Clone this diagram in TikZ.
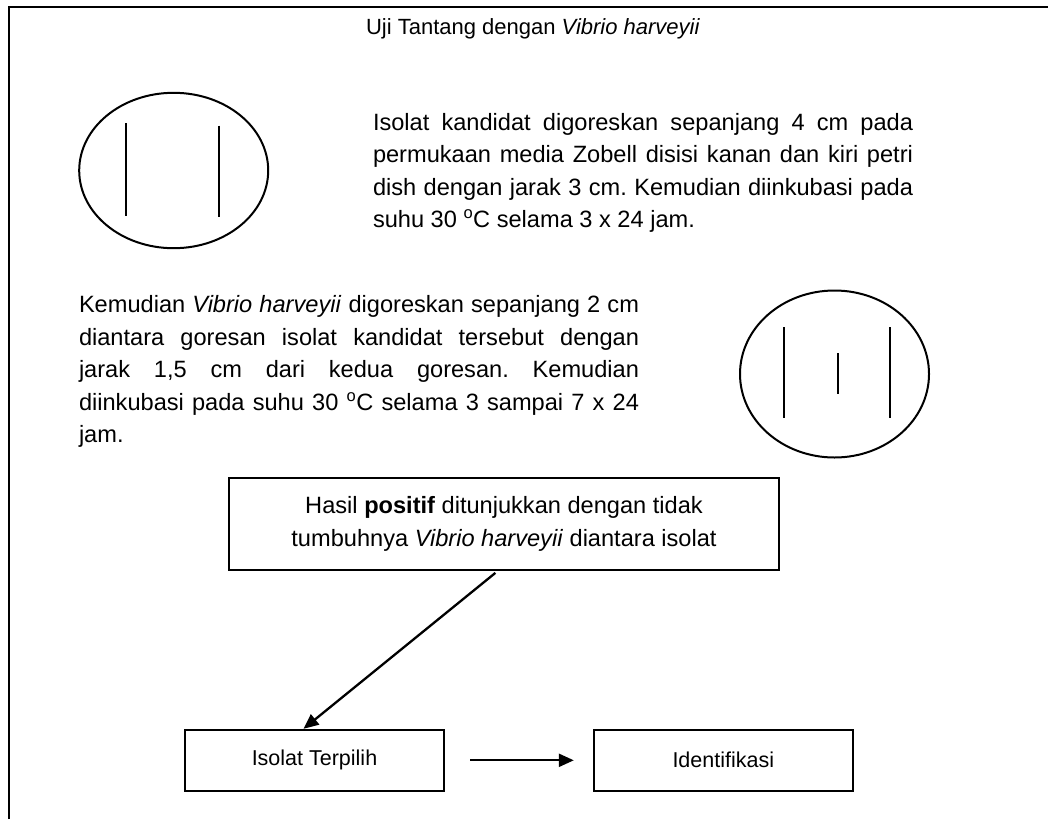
\documentclass[tikz,border=0pt]{standalone}
\usepackage{fontspec}
\setmainfont{Liberation Sans}
\usetikzlibrary{arrows.meta}
\hyphenpenalty=10000
\exhyphenpenalty=10000
\tolerance=10000
\frenchspacing
\begin{document}
\begin{tikzpicture}[x=1pt,y=-1pt,
  line width=2pt,
  para/.style={anchor=north west, inner sep=0pt, align=justify, font=\fontsize{23.6}{32.5}\selectfont\frenchspacing},
  bigbox/.style={draw, line width=2pt, minimum width=550pt, minimum height=92pt, align=center, inner sep=0pt, font=\fontsize{23.6}{33}\selectfont},
  smallbox/.style={draw, line width=2pt, minimum width=259pt, minimum height=61pt, inner sep=0pt, font=\fontsize{21.5}{25}\selectfont},
  arr/.style={line width=2.3pt, -{Triangle[length=15pt,width=13pt]}},
  plate/.style={line width=2pt},
  streak/.style={line width=2pt}
]
\useasboundingbox (0,0) rectangle (1048,819);
\fill[white] (0,0) rectangle (1048,819);
\draw[line width=2.5pt] (9,819) -- (9,7) -- (1048,7);
\node[anchor=base, font=\fontsize{22}{26}\selectfont, inner sep=0pt] (title) at (533,34.3) {Uji Tantang dengan \textit{Vibrio harveyii}};
% left plate
\draw[plate] (173.7,170.5) ellipse [x radius=94.5pt, y radius=77.7pt];
\draw[streak] (126,123) -- (126,216);
\draw[streak] (218.7,125.7) -- (218.7,217);
% right plate
\draw[plate] (834.5,374) ellipse [x radius=94.5pt, y radius=83.5pt];
\draw[streak] (784,327) -- (784,418);
\draw[streak] (838,353) -- (838,394);
\draw[streak] (890,327) -- (890,418);
% paragraphs
\node[para, text width=540pt] (p1) at (372,112.3) {Isolat kandidat digoreskan sepanjang 4 cm pada\linebreak permukaan media Zobell disisi kanan dan kiri petri\linebreak dish dengan jarak 3 cm. Kemudian diinkubasi pada\linebreak suhu 30 \textsuperscript{o}C selama 3 x 24 jam.};
\node[para, text width=560pt] (p2) at (78,294.7) {Kemudian \textit{Vibrio harveyii} digoreskan sepanjang 2 cm\linebreak diantara goresan isolat kandidat tersebut dengan\linebreak jarak 1,5 cm dari kedua goresan. Kemudian\linebreak diinkubasi pada suhu 30 \textsuperscript{o}C selama 3 sampai 7 x 24\linebreak jam.};
% boxes
\node[bigbox] (hasil) at (504,524) {Hasil \textbf{positif} ditunjukkan dengan tidak\\tumbuhnya \textit{Vibrio harveyii} diantara isolat};
\node[smallbox] (isolat) at (314.5,760.3) {Isolat Terpilih};
\node[smallbox] (ident) at (723.3,760.3) {Identifikasi};
% arrows
\draw[arr, shorten <=3pt] ([xshift=-6.3pt]hasil.south) -- ([xshift=-11pt]isolat.north);
\draw[arr, shorten <=25pt, shorten >=19pt] (isolat.east) -- (ident.west);
\end{tikzpicture}
\end{document}
